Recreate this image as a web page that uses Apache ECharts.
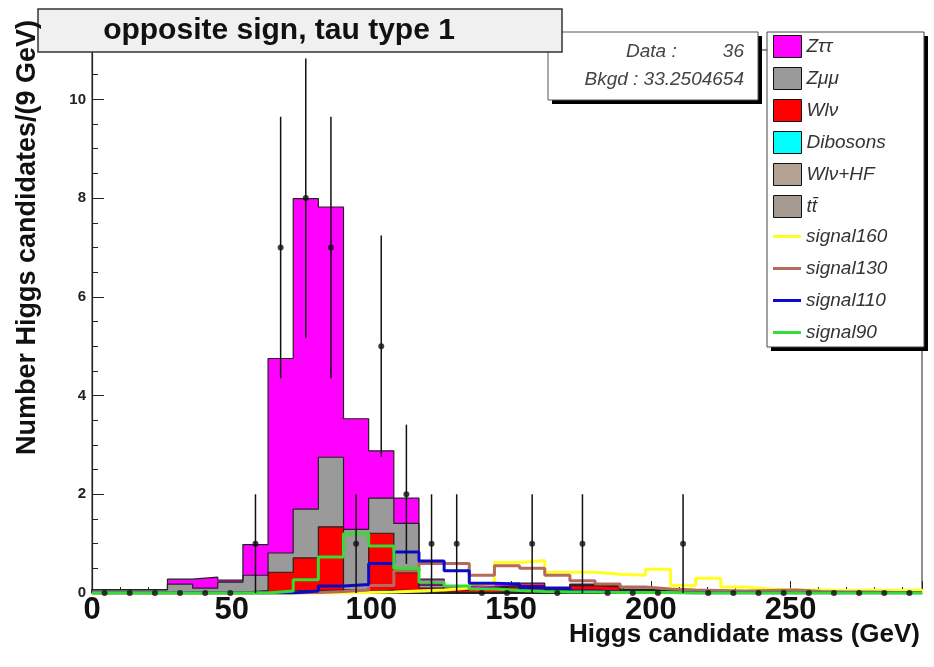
<!DOCTYPE html>
<html>
<head>
<meta charset="utf-8">
<title>opposite sign, tau type 1</title>
<script src="https://cdn.jsdelivr.net/npm/echarts@6/dist/echarts.min.js"></script>
<style>
  html, body { margin: 0; padding: 0; background: #fff; }
  #main { width: 934px; height: 667px; }
</style>
</head>
<body>
<div id="main"></div>
<script>
// 9 GeV bins
var binEdges = [0, 9, 18, 27, 36, 45, 54, 63, 72, 81, 90, 99, 108, 117, 126, 135, 144, 153, 162, 171,
  180, 189, 198, 207, 216, 225, 234, 243, 252, 261, 270, 279, 288, 297];

// backgrounds (stacked, bottom -> top: ttbar, Wlv+HF, Dibosons, Wlv, Zmumu, Ztautau)
var ttbar = [0, 0, 0, 0, 0, 0, 0, 0.02, 0.02, 0.03, 0.01, 0.03, 0.02, 0.01, 0, 0, 0.01, 0.01, 0, 0.01, 0.01, 0, 0, 0, 0, 0, 0, 0, 0, 0, 0, 0, 0];
var wlvHF = [0, 0, 0, 0.02, 0.02, 0.02, 0.02, 0.02, 0.02, 0.02, 0.01, 0.02, 0.02, 0.01, 0.01, 0.01, 0.01, 0.01, 0.01, 0.01, 0.01, 0.01, 0, 0, 0, 0, 0, 0, 0, 0, 0, 0, 0];
var dibosons = [0, 0, 0, 0, 0, 0, 0, 0, 0.01, 0.01, 0.01, 0.01, 0.01, 0, 0, 0, 0, 0, 0, 0, 0, 0, 0, 0, 0, 0, 0, 0, 0, 0, 0, 0, 0];
var wlv = [0, 0, 0, 0, 0, 0, 0.03, 0.38, 0.66, 1.28, 0.03, 1.15, 0.36, 0.08, 0.05, 0.09, 0.11, 0.11, 0.03, 0.13, 0.11, 0.05, 0.04, 0.02, 0.01, 0.01, 0.02, 0.01, 0, 0.01, 0, 0, 0];
var zmumu = [0.07, 0.07, 0.07, 0.16, 0.08, 0.20, 0.31, 0.39, 0.99, 1.41, 1.23, 0.71, 1.00, 0.06, 0.03, 0.02, 0.02, 0.02, 0.01, 0.01, 0.01, 0.01, 0.01, 0.01, 0.01, 0, 0, 0, 0, 0, 0, 0, 0];
var ztautau = [0, 0, 0, 0.10, 0.22, 0.04, 0.62, 3.94, 6.29, 5.07, 2.24, 0.96, 0.51, 0.12, 0.05, 0.06, 0.05, 0.05, 0.02, 0.02, 0.02, 0.01, 0, 0, 0, 0, 0, 0, 0, 0, 0, 0, 0];

// signals
var signal160 = [0, 0, 0, 0, 0, 0, 0, 0, 0, 0, 0.01, 0.02, 0.04, 0.06, 0.1, 0.18, 0.62, 0.66, 0.42, 0.42, 0.38, 0.36, 0.48, 0.15, 0.3, 0.12, 0.08, 0.06, 0.06, 0.05, 0.06, 0.05, 0.06];
var signal130 = [0, 0, 0, 0, 0, 0, 0, 0, 0.01, 0.03, 0.06, 0.15, 0.45, 0.6, 0.6, 0.36, 0.55, 0.5, 0.36, 0.25, 0.18, 0.12, 0.08, 0.06, 0.05, 0.04, 0.05, 0.06, 0.03, 0.02, 0.02, 0.01, 0.01];
var signal110 = [0, 0, 0, 0, 0, 0, 0, 0, 0.04, 0.14, 0.17, 0.6, 0.83, 0.65, 0.45, 0.2, 0.18, 0.1, 0.1, 0.04, 0.02, 0.01, 0.01, 0, 0, 0, 0, 0, 0, 0, 0, 0, 0];
var signal90 = [0, 0, 0, 0, 0, 0, 0, 0.04, 0.27, 0.73, 1.2, 0.95, 0.5, 0.22, 0.14, 0.08, 0.05, 0.03, 0.02, 0.02, 0.01, 0.01, 0.01, 0, 0, 0, 0, 0, 0, 0, 0, 0, 0];

// data
var dataCounts = [0, 0, 0, 0, 0, 0, 1, 7, 8, 7, 1, 5, 2, 1, 1, 0, 0, 1, 0, 1, 0, 0, 0, 1, 0, 0, 0, 0, 0, 0, 0, 0, 0];
var dataErr = [0, 0, 0, 0, 0, 0, 1, 2.65, 2.83, 2.65, 1, 2.24, 1.41, 1, 1, 0, 0, 1, 0, 1, 0, 0, 0, 1, 0, 0, 0, 0, 0, 0, 0, 0, 0];

var xTicks = [0, 50, 100, 150, 200, 250];
var yTicks = [0, 2, 4, 6, 8, 10];

var FONT = '"Liberation Sans", Arial, Helvetica, sans-serif';

function addArr(a, b) {
  return a.map(function (v, i) { return v + b[i]; });
}
// histogram contour points for a step:'end' line
function stepPoints(vals) {
  var pts = [[binEdges[0], 0]];
  for (var i = 0; i < vals.length; i++) {
    pts.push([binEdges[i], vals[i]]);
  }
  pts.push([binEdges[vals.length], vals[vals.length - 1]]);
  pts.push([binEdges[vals.length], 0]);
  return pts;
}

var ttTop = ttbar;
var hfTop = addArr(ttTop, wlvHF);
var dibTop = addArr(hfTop, dibosons);
var wlvTop = addArr(dibTop, wlv);
var zmmTop = addArr(wlvTop, zmumu);
var zttTop = addArr(zmmTop, ztautau);

var centers = dataCounts.map(function (v, i) { return (binEdges[i] + binEdges[i + 1]) / 2; });

var stackDefs = [
  { name: 'Zττ', top: zttTop, color: '#ff00ff' },
  { name: 'Zμμ', top: zmmTop, color: '#9a9a9a' },
  { name: 'Wlν', top: wlvTop, color: '#ff0000' },
  { name: 'Dibosons', top: dibTop, color: '#00ffff' },
  { name: 'Wlν+HF', top: hfTop, color: '#b4a294' },
  { name: 'tt\u0304', top: ttTop, color: '#a59a90' }
];
var signalDefs = [
  { name: 'signal160', vals: signal160, color: '#ffff22' },
  { name: 'signal130', vals: signal130, color: '#b46a5c' },
  { name: 'signal110', vals: signal110, color: '#0a0ac8' },
  { name: 'signal90', vals: signal90, color: '#33dd33' }
];

var series = [];
stackDefs.forEach(function (d) {
  series.push({
    name: d.name,
    type: 'line',
    step: 'end',
    symbol: 'none',
    silent: true,
    color: d.color,
    data: stepPoints(d.top),
    lineStyle: { color: '#222', width: 1.2 },
    areaStyle: { color: d.color, opacity: 1 },
    z: 2
  });
});
signalDefs.forEach(function (d) {
  series.push({
    name: d.name,
    type: 'line',
    step: 'end',
    symbol: 'none',
    silent: true,
    color: d.color,
    data: stepPoints(d.vals),
    lineStyle: { color: d.color, width: 3 },
    z: 3
  });
});
series.push({
  name: 'Data',
  type: 'custom',
  silent: true,
  z: 4,
  encode: { x: 0, y: 1 },
  data: dataCounts.map(function (v, i) { return [centers[i], v, dataErr[i]]; }),
  renderItem: function (params, api) {
    var x = api.value(0), y = api.value(1), e = api.value(2);
    if (!e) return null;
    var lo = api.coord([x, y - e]);
    var hi = api.coord([x, y + e]);
    return {
      type: 'line',
      shape: { x1: lo[0], y1: lo[1], x2: hi[0], y2: hi[1] },
      style: { stroke: '#111', lineWidth: 1.5 }
    };
  }
});
series.push({
  name: 'DataPoints',
  type: 'scatter',
  silent: true,
  z: 5,
  symbol: 'circle',
  symbolSize: 6,
  itemStyle: { color: '#111' },
  data: dataCounts.map(function (v, i) { return [centers[i], v]; })
});

var legendText = { fontFamily: FONT, fontStyle: 'italic', fontSize: 19, color: '#333', lineHeight: 19 };

var option = {
  animation: false,
  backgroundColor: '#ffffff',
  grid: {
    left: 92, right: 12, top: 50, bottom: 74,
    containLabel: false, outerBoundsMode: 'none',
    show: true, borderColor: '#222', borderWidth: 1, backgroundColor: 'transparent'
  },
  xAxis: {
    type: 'value',
    min: xTicks[0],
    max: binEdges[binEdges.length - 1],
    interval: xTicks[1] - xTicks[0],
    axisLine: { lineStyle: { color: '#222', width: 1.2 } },
    axisTick: { inside: true, length: 12, lineStyle: { color: '#222' } },
    minorTick: { show: true, splitNumber: 5, length: 6, lineStyle: { color: '#222' } },
    splitLine: { show: false },
    axisLabel: {
      fontFamily: FONT, fontWeight: 'bold', fontSize: 31, color: '#111', margin: 2,
      showMaxLabel: false,
      formatter: function (v) { return xTicks.indexOf(v) >= 0 ? String(v) : ''; }
    }
  },
  yAxis: {
    type: 'value',
    min: yTicks[0],
    max: 11,
    interval: yTicks[1] - yTicks[0],
    axisLine: { show: true, lineStyle: { color: '#222', width: 1.2 } },
    axisTick: { show: true, inside: true, length: 12, lineStyle: { color: '#222' } },
    minorTick: { show: true, splitNumber: 4, length: 6, lineStyle: { color: '#222' } },
    splitLine: { show: false },
    axisLabel: {
      fontFamily: FONT, fontWeight: 'bold', fontSize: 15, color: '#222', margin: 6,
      showMaxLabel: false,
      formatter: function (v) { return yTicks.indexOf(v) >= 0 ? String(v) : ''; }
    }
  },
  legend: [
    {
      orient: 'vertical', left: 773, top: 35, padding: 0,
      itemWidth: 28, itemHeight: 22, itemGap: 9,
      selectedMode: false, textStyle: legendText,
      data: stackDefs.map(function (d) {
        return { name: d.name, icon: 'rect', itemStyle: { color: d.color, borderColor: '#111', borderWidth: 1 } };
      })
    },
    {
      orient: 'vertical', left: 773, top: 227, padding: 0,
      itemWidth: 28, itemHeight: 3, itemGap: 13,
      selectedMode: false, textStyle: legendText,
      data: signalDefs.map(function (d) {
        return { name: d.name, icon: 'rect', itemStyle: { color: d.color, borderWidth: 0 } };
      })
    }
  ],
  graphic: [
    // axis titles
    {
      type: 'text', x: 28, y: 20, rotation: Math.PI / 2, z: 10,
      style: {
        text: 'Number Higgs candidates/(9 GeV)', font: 'bold 27px ' + FONT, fill: '#111',
        align: 'right', verticalAlign: 'middle', textAlign: 'right', textVerticalAlign: 'middle'
      }
    },
    {
      type: 'text', x: 920, y: 635, z: 10,
      style: {
        text: 'Higgs candidate mass (GeV)', font: 'bold 26px ' + FONT, fill: '#111',
        align: 'right', verticalAlign: 'middle', textAlign: 'right', textVerticalAlign: 'middle'
      }
    },
    // stats box
    { type: 'rect', z: 5, shape: { x: 552, y: 36, width: 210, height: 68 }, style: { fill: '#000' } },
    { type: 'rect', z: 5, shape: { x: 548, y: 32, width: 210, height: 68 }, style: { fill: '#fff', stroke: '#555', lineWidth: 1 } },
    {
      type: 'text', z: 6, x: 626, y: 52,
      style: { text: 'Data :', font: 'italic 19px ' + FONT, fill: '#444', align: 'left', verticalAlign: 'middle', textAlign: 'left', textVerticalAlign: 'middle' }
    },
    {
      type: 'text', z: 6, x: 744, y: 52,
      style: { text: '36', font: 'italic 19px ' + FONT, fill: '#444', align: 'right', verticalAlign: 'middle', textAlign: 'right', textVerticalAlign: 'middle' }
    },
    {
      type: 'text', z: 6, x: 744, y: 80,
      style: { text: 'Bkgd : 33.2504654', font: 'italic 19px ' + FONT, fill: '#444', align: 'right', verticalAlign: 'middle', textAlign: 'right', textVerticalAlign: 'middle' }
    },
    // title box
    { type: 'rect', z: 8, shape: { x: 38, y: 9, width: 524, height: 43 }, style: { fill: '#f0f0f0', stroke: '#333', lineWidth: 1.5 } },
    {
      type: 'text', z: 9, x: 279, y: 31,
      style: { text: 'opposite sign, tau type 1', font: 'bold 30px ' + FONT, fill: '#111', align: 'center', verticalAlign: 'middle', textAlign: 'center', textVerticalAlign: 'middle' }
    },
    // legend box
    { type: 'rect', z: 3, shape: { x: 771, y: 36, width: 157, height: 315 }, style: { fill: '#000' } },
    { type: 'rect', z: 3, shape: { x: 767, y: 32, width: 157, height: 315 }, style: { fill: '#fff', stroke: '#444', lineWidth: 1 } }
  ],
  series: series
};

var myChart = echarts.init(document.getElementById('main'), null, { renderer: 'canvas' });
myChart.setOption(option);
</script>
</body>
</html>
